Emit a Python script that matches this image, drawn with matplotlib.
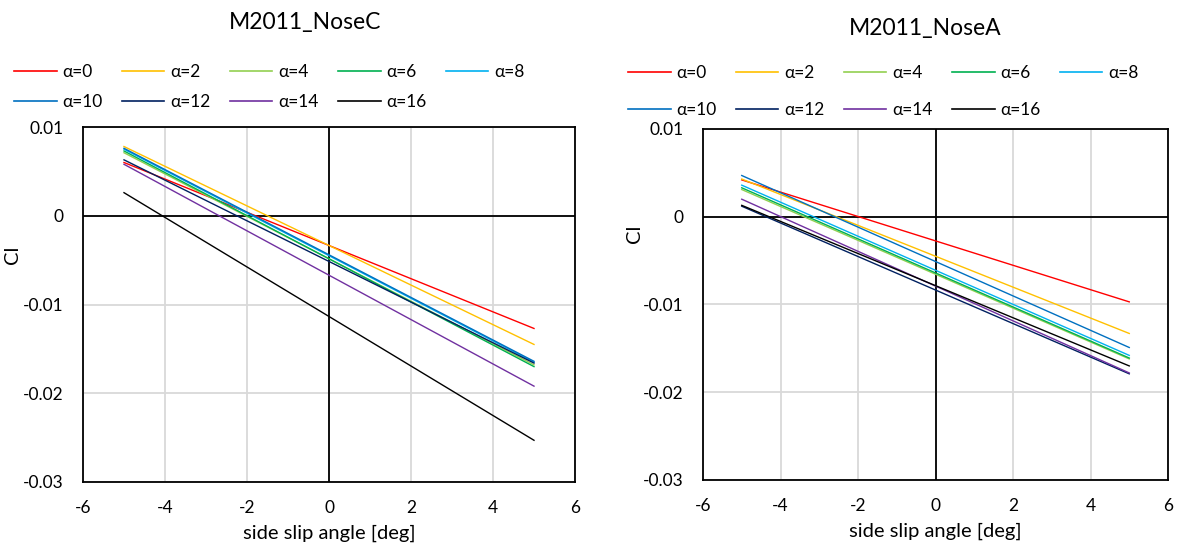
import matplotlib.pyplot as plt
import numpy as np

plt.rcParams['font.family'] = ['Lato', 'DejaVu Sans']
plt.rcParams['axes.unicode_minus'] = False

# side slip angle [deg]
beta = [-5, 5]
alphas = [0, 2, 4, 6, 8, 10, 12, 14, 16]
colors = ['#FF0000', '#FFC000', '#92D050', '#00B050', '#00B0F0',
          '#0070C0', '#002060', '#7030A0', '#000000']

# Cl values at beta = -5 and +5, one pair per alpha
cl_noseC = {
    0: [0.0060, -0.0127],
    2: [0.0078, -0.0145],
    4: [0.0071, -0.0168],
    6: [0.0073, -0.0170],
    8: [0.0075, -0.0165],
    10: [0.0076, -0.0164],
    12: [0.0063, -0.0166],
    14: [0.0058, -0.0192],
    16: [0.0026, -0.0253],
}
cl_noseA = {
    0: [0.0042, -0.0097],
    2: [0.0043, -0.0133],
    4: [0.0031, -0.0162],
    6: [0.0033, -0.0161],
    8: [0.0036, -0.0158],
    10: [0.0047, -0.0149],
    12: [0.0012, -0.0179],
    14: [0.0020, -0.0178],
    16: [0.0013, -0.0170],
}

W, H = 1187, 549
fig = plt.figure(figsize=(W / 100, H / 100), dpi=100)


def px_axes(x0, y0, x1, y1):
    return fig.add_axes([x0 / W, 1 - y1 / H, (x1 - x0) / W, (y1 - y0) / H])


def draw(ax, data, title, title_xy, leg_xy, leg_spacing, ylab_pos):
    ax.set_xlim(-6, 6)
    ax.set_ylim(-0.03, 0.01)
    ax.set_xticks(np.arange(-6, 7, 2))
    ax.set_yticks([-0.03, -0.02, -0.01, 0, 0.01])
    ax.set_yticklabels(['-0.03', '-0.02', '-0.01', '0', '0.01'])
    ax.grid(True, color='#d9d9d9', lw=1.3)
    ax.set_axisbelow(True)
    ax.axhline(0, color='black', lw=1.3, zorder=1.5)
    ax.axvline(0, color='black', lw=1.3, zorder=1.5)
    for s in ax.spines.values():
        s.set_color('black')
        s.set_linewidth(1.3)
    ax.tick_params(length=0, labelsize=12.5)
    ax.tick_params(axis='x', pad=13)
    ax.tick_params(axis='y', pad=14)
    handles = {}
    for a, c in zip(alphas, colors):
        h, = ax.plot(beta, data[a], color=c, lw=1.0, label='α=%d' % a, zorder=3)
        handles[a] = h
    ax.set_xlabel('side slip angle [deg]', fontsize=14.5, labelpad=6)
    ax.set_ylabel('Cl', fontsize=14.5)
    ax.yaxis.set_label_coords(*ylab_pos)
    fig.text(title_xy[0] / W, 1 - title_xy[1] / H, title, fontsize=16.5,
             ha='center', va='center')
    order = [0, 10, 2, 12, 4, 14, 6, 16, 8]
    leg = fig.legend([handles[a] for a in order], ['α=%d' % a for a in order],
                     loc='upper left', bbox_to_anchor=(leg_xy[0] / W, 1 - leg_xy[1] / H),
                     ncol=5, frameon=False, fontsize=12.5, borderpad=0, borderaxespad=0,
                     handlelength=2.45, handletextpad=0.35, columnspacing=1.1,
                     labelspacing=leg_spacing)
    for ln in leg.get_lines():
        ln.set_linewidth(1.2)


axL = px_axes(83, 127, 575, 482)
draw(axL, cl_noseC, 'M2011_NoseC', (305, 22), (14, 64), 0.8, (-0.125, 0.64))
axR = px_axes(703, 129, 1168, 480)
draw(axR, cl_noseA, 'M2011_NoseA', (925, 28), (628, 65), 1.2, (-0.13, 0.70))

fig.savefig('out.png', dpi=100)
